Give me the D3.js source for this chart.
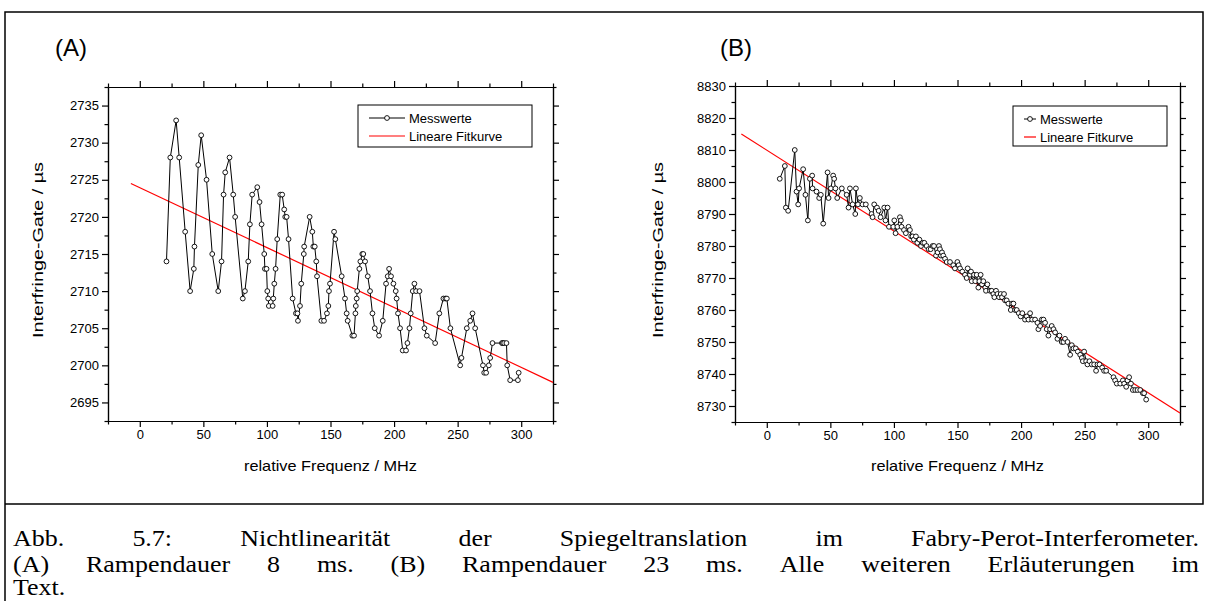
<!DOCTYPE html>
<html>
<head>
<meta charset="utf-8">
<style>
  body { margin: 0; padding: 0; background: #fff; }
  svg { display: block; }
  .tick text { font-family: "Liberation Sans", Arial, sans-serif; font-size: 13px; fill: #000; }
  .axis path, .axis line { stroke: #000; stroke-width: 1.2px; }
  .lbl { font-family: "Liberation Sans", Arial, sans-serif; fill: #000; }
  .cap { font-family: "Liberation Serif", "Times New Roman", serif; font-size: 23px; fill: #000; }
</style>
<script src="https://cdn.jsdelivr.net/npm/d3@7"></script>
</head>
<body>
<svg id="fig" width="1208" height="601"></svg>
<script>
// ---- data ----
var freqTicks = [0, 50, 100, 150, 200, 250, 300];
var gateTicksA = [2695, 2700, 2705, 2710, 2715, 2720, 2725, 2730, 2735];
var gateTicksB = [8730, 8740, 8750, 8760, 8770, 8780, 8790, 8800, 8810, 8820, 8830];
var legendLabels = ["Messwerte", "Lineare Fitkurve"];

// (A) Rampendauer 8 ms
var freqA = [21, 24, 28.6, 31, 35.7, 39.6, 42.5, 43, 46, 48.3, 52.5, 57, 61.7, 64.3, 65.9, 67.2, 70.6, 73.5, 75,
  81, 82.7, 85.3, 86.6, 88.4, 92.4, 94.2, 95.8, 97.9, 98.4, 99.7, 100.3, 101, 101.5, 104.5, 105, 105.8, 106.8,
  108.1, 110.5, 112, 113.6, 114.4, 115.5, 117, 120.2, 122.8, 124, 124.4, 126, 127, 129, 129.3, 133.6, 135.7,
  136.5, 137.6, 138.8, 139.4, 142.8, 144.9, 147.2, 148.3, 148.8, 149.6, 152.8, 153.8, 158.8, 161.4, 162.7,
  163.5, 167.2, 168.5, 169.6, 169.9, 170.6, 171, 172.7, 173.5, 175, 175.8, 177.2, 179.3, 181.1, 183, 184.8,
  188.2, 191.1, 193.7, 195, 196.1, 197.6, 199.5, 201.3, 202, 203.1, 204.7, 206.8, 209.4, 210.5, 212.1, 213.1,
  214.7, 216, 217.3, 220, 223.9, 225.7, 232.3, 235.6, 238.8, 240.4, 241.5, 244.3, 252, 253, 257.2, 259.9,
  261.7, 263.8, 269.9, 270.9, 272.4, 274.5, 275.6, 277.4, 284.8, 285.6, 286.6, 288.4, 289, 291.3, 297.4, 298];
var gateA = [2714, 2728, 2733, 2728, 2718, 2710, 2713, 2716, 2727, 2731, 2725, 2715, 2710, 2714, 2723, 2726, 2728, 2723, 2720,
  2709, 2710, 2714, 2719, 2723, 2724, 2722, 2719, 2715, 2713, 2713, 2710, 2709, 2708, 2708, 2709, 2711, 2713,
  2717, 2723, 2723, 2721, 2720, 2720, 2717, 2709, 2707, 2707, 2706, 2708, 2711, 2715, 2716, 2720, 2718,
  2716, 2716, 2714, 2712, 2706, 2706, 2707, 2708, 2710, 2711, 2718, 2717, 2712, 2709, 2707,
  2706, 2704, 2704, 2707, 2708, 2709, 2710, 2713, 2714, 2715, 2715, 2714, 2712, 2710, 2707, 2705,
  2704, 2706, 2711, 2712, 2713, 2712, 2711, 2710, 2709, 2707, 2705, 2702, 2702, 2703, 2705, 2707,
  2710, 2711, 2710, 2710, 2705, 2704, 2703, 2707, 2709, 2709, 2709, 2705, 2700, 2701, 2705, 2706,
  2707, 2705, 2700, 2699, 2699, 2700, 2701, 2703, 2703, 2703, 2703, 2703, 2700, 2698, 2698, 2699];
var fitFreqA = [-7, 325];
var fitGateA = [2724.5, 2697.7];

// (B) Rampendauer 23 ms
var freqB = [10.2, 14.2, 15, 16.8, 22, 23.4, 24.7, 25.4, 28.6, 30.4, 32.3, 33.9, 35.7, 36, 39.1, 41.2, 42.5, 44.4,
  47.8, 48.6, 50.4, 52.2, 53, 54, 55.4, 59, 62.8, 64.3, 65.4, 67.5, 69.6, 70.1, 71.7, 73.2, 75.3, 77.9, 82.4,
  83.2, 84.5, 86.7, 88, 89.5, 92.4, 93.4, 95, 96.1, 99.5, 100.3, 101.3, 102.7,
  104.7, 105.5, 106, 107.9, 109.4, 111.5, 112.6, 113.6, 114.7, 115.7, 117.3, 118.4, 120, 121.3, 122.6, 123.9,
  125.7, 127.3, 128.9, 130.4, 131.5, 133.1, 134.4, 135.4, 136.2, 137, 137.8, 138.8, 140.2, 141.5, 144.1, 146.7,
  148, 149.9, 150.9, 152, 153.8, 155.9, 157.2, 158, 159.8, 160.6, 161.2, 163, 164, 165.1, 166.4, 167.2, 168.2,
  169.3, 170.3, 171.9, 172.4, 173.5, 175.6, 176.9, 178.2, 179, 180.3, 181.4, 182.7, 184, 185, 186.6, 187.4,
  188.7, 190, 191.9, 192.9, 194, 195.3, 196.6, 198.2, 199.7, 201, 203.1, 204.5, 205.8, 207.1, 208.7, 211,
  212.9, 213.6, 215, 216.3, 217.6, 218.9, 220.2, 221.5, 222.8, 224.1, 225.5, 226.8, 228.6, 230.2, 232, 233.3,
  234.6, 236.5, 238.6, 239.9, 241.2, 243, 244.6, 246.5, 247.8, 248.6, 249.6, 251.2, 252.2, 253.8, 255.6, 257.5,
  259, 260.1, 261.7, 263.8, 265.3, 266.9, 272.7, 274, 275.3, 278, 280.1, 281.1, 282.7, 283.7, 285, 286.4,
  287.9, 289.8, 291.6, 293.7, 295.8, 296.8, 298.4];
var gateB = [8801, 8805, 8792, 8791, 8810, 8797, 8793, 8798, 8804, 8796, 8788, 8801, 8802, 8798, 8797, 8795, 8796, 8787,
  8803, 8795, 8798, 8802, 8801, 8798, 8795, 8798, 8796, 8792, 8798, 8793, 8790, 8798, 8793, 8795, 8793, 8793, 8790,
  8789, 8793, 8792, 8791, 8789, 8792, 8788, 8792, 8786, 8786, 8788, 8784, 8786,
  8789, 8788, 8786, 8785, 8784, 8786, 8785, 8783, 8783, 8782, 8783, 8781, 8782, 8780, 8781, 8781,
  8780, 8779, 8779, 8780, 8780, 8777, 8778, 8780, 8779, 8777, 8778, 8777, 8776, 8775, 8775, 8774,
  8773, 8775, 8774, 8773, 8772, 8771, 8770, 8773, 8771, 8772, 8769, 8771, 8769, 8771, 8767, 8769, 8771,
  8768, 8769, 8767, 8766, 8768, 8766, 8766, 8765, 8764, 8766, 8765, 8764, 8765, 8764, 8765, 8763,
  8763, 8762, 8760, 8762, 8762, 8760, 8760, 8759, 8758, 8759, 8757, 8758, 8757, 8759, 8757, 8757,
  8756, 8754, 8755, 8757, 8757, 8756, 8754, 8752, 8754, 8755, 8754, 8753, 8751, 8752, 8750, 8750,
  8751, 8750, 8746, 8749, 8748, 8748, 8747, 8746, 8745, 8744, 8747, 8744, 8743, 8744, 8743, 8743,
  8741, 8743, 8743, 8742, 8741, 8741, 8739, 8738, 8737, 8737, 8738, 8737, 8736, 8738, 8739, 8737,
  8735, 8735, 8735, 8735, 8734, 8734, 8732];
var fitFreqB = [-20, 325];
var fitGateB = [8815.0, 8727.8];

var captionLines = [
  "Abb. 5.7: Nichtlinearität der Spiegeltranslation im Fabry-Perot-Interferometer.",
  "(A) Rampendauer 8 ms. (B) Rampendauer 23 ms. Alle weiteren Erläuterungen im",
  "Text."
];

var svg = d3.select("#fig");

// outer frame
svg.append("path")
  .attr("d", "M5,601 V12 H1203 V504 H5")
  .attr("fill", "none").attr("stroke", "#000").attr("stroke-width", 1.5);

function panel(opt) {
  var x = d3.scaleLinear().domain([-25, 325]).range([opt.left, opt.right]);
  var y = d3.scaleLinear().domain(opt.yDomain).range([opt.bottom, opt.top]);
  var g = svg.append("g");
  var minorX = d3.range(-25, 326, 25).filter(function(v){ return freqTicks.indexOf(v) < 0; });
  var minorY = d3.range(opt.yDomain[0], opt.yDomain[1] + 0.01, opt.minorStep)
    .filter(function(v){ return opt.yTicks.indexOf(Math.round(v * 10) / 10) < 0; });

  function axes(gen, pos, vals, labels, size) {
    var ax = gen.tickValues(vals).tickSize(size).tickSizeOuter(0);
    ax.tickFormat(labels ? d3.format("d") : "");
    g.append("g").attr("class", "axis").attr("transform", pos).call(ax);
  }
  // bottom / top
  axes(d3.axisBottom(x), "translate(0," + opt.bottom + ")", freqTicks, true, 6);
  axes(d3.axisBottom(x), "translate(0," + opt.bottom + ")", minorX, false, 3.5);
  axes(d3.axisTop(x), "translate(0," + opt.top + ")", freqTicks, false, 6);
  axes(d3.axisTop(x), "translate(0," + opt.top + ")", minorX, false, 3.5);
  // left / right
  axes(d3.axisLeft(y), "translate(" + opt.left + ",0)", opt.yTicks, true, 6);
  axes(d3.axisLeft(y), "translate(" + opt.left + ",0)", minorY, false, 3.5);
  axes(d3.axisRight(y), "translate(" + opt.right + ",0)", opt.yTicks, false, 6);
  axes(d3.axisRight(y), "translate(" + opt.right + ",0)", minorY, false, 3.5);
  g.selectAll(".domain").attr("stroke-width", 1.4);

  // fit line
  var fit = opt.fitX.map(function(v, i){ return [v, opt.fitY[i]]; });
  g.append("path")
    .attr("d", d3.line().x(function(d){ return x(d[0]); }).y(function(d){ return y(d[1]); })(fit))
    .attr("fill", "none").attr("stroke", "#ff0000").attr("stroke-width", 1.2);

  // measured values
  var pts = opt.xs.map(function(v, i){ return [v, opt.ys[i]]; });
  g.append("path")
    .attr("d", d3.line().x(function(d){ return x(d[0]); }).y(function(d){ return y(d[1]); })(pts))
    .attr("fill", "none").attr("stroke", "#000").attr("stroke-width", 1);
  g.selectAll("circle.pt").data(pts).enter().append("circle")
    .attr("class", "pt")
    .attr("cx", function(d){ return x(d[0]); })
    .attr("cy", function(d){ return y(d[1]); })
    .attr("r", 2.4).attr("fill", "#fff").attr("stroke", "#000").attr("stroke-width", 0.9);

  // legend
  var L = opt.legend;
  g.append("rect").attr("x", L.x).attr("y", L.y).attr("width", L.w).attr("height", L.h)
    .attr("fill", "#fff").attr("stroke", "#000").attr("stroke-width", 1);
  var ly1 = L.y + 13, ly2 = L.y + 31;
  g.append("line").attr("x1", L.x + 11).attr("x2", L.x + L.s).attr("y1", ly1).attr("y2", ly1).attr("stroke", "#000");
  g.append("circle").attr("cx", L.x + 11 + (L.s - 11) / 2).attr("cy", ly1).attr("r", 2.4)
    .attr("fill", "#fff").attr("stroke", "#000").attr("stroke-width", 0.9);
  g.append("line").attr("x1", L.x + 11).attr("x2", L.x + L.s).attr("y1", ly2).attr("y2", ly2)
    .attr("stroke", "#ff0000").attr("stroke-width", 1.2);
  g.append("text").attr("class", "lbl").attr("x", L.x + L.s + 4).attr("y", ly1 + 5)
    .style("font-size", "13px").text(legendLabels[0]);
  g.append("text").attr("class", "lbl").attr("x", L.x + L.s + 4).attr("y", ly2 + 5)
    .style("font-size", "13px").text(legendLabels[1]);

  // titles
  g.append("text").attr("class", "lbl").attr("x", opt.tagX).attr("y", 56)
    .style("font-size", "24px").text(opt.tag);
  g.append("text").attr("class", "lbl").attr("text-anchor", "middle")
    .attr("x", (opt.left + opt.right) / 2).attr("y", 471)
    .style("font-size", "15px").attr("textLength", 173).attr("lengthAdjust", "spacingAndGlyphs")
    .text("relative Frequenz   / MHz");
  g.append("text").attr("class", "lbl").attr("text-anchor", "middle")
    .attr("transform", "translate(" + opt.ylabX + "," + ((opt.top + opt.bottom) / 2 - 4) + ") rotate(-90)")
    .style("font-size", "15px").attr("textLength", 176).attr("lengthAdjust", "spacingAndGlyphs")
    .text("Interfringe-Gate   / µs");
}

panel({
  left: 108, right: 553, top: 87, bottom: 421,
  yDomain: [2692.5, 2737.5], yTicks: gateTicksA, minorStep: 2.5,
  xs: freqA, ys: gateA, fitX: fitFreqA, fitY: fitGateA,
  legend: {x: 358, y: 105, w: 174, h: 42, s: 47},
  tag: "(A)", tagX: 55, ylabX: 43
});
panel({
  left: 735, right: 1180, top: 86, bottom: 422,
  yDomain: [8725, 8830], yTicks: gateTicksB, minorStep: 5,
  xs: freqB, ys: gateB, fitX: fitFreqB, fitY: fitGateB,
  legend: {x: 1013, y: 106, w: 154, h: 40, s: 23},
  tag: "(B)", tagX: 720, ylabX: 663
});

// caption, justified like the TeX original (words widened a little, CM is broader than Times)
var capY = [546, 572, 595];
var stretch = 1.13;
captionLines.forEach(function(line, li) {
  var words = line.split(" ");
  var gT = svg.append("g");
  var nodes = words.map(function(w){ return gT.append("text").attr("class", "cap").text(w); });
  var widths = nodes.map(function(n){ return n.node().getComputedTextLength() * stretch; });
  var total = d3.sum(widths);
  var x0 = 13, x1 = 1199;
  var gap = (li < 2 && words.length > 1) ? (x1 - x0 - total) / (words.length - 1) : 7;
  var cx = x0;
  nodes.forEach(function(n, i){
    n.attr("transform", "translate(" + cx + "," + capY[li] + ") scale(" + stretch + ",1)");
    cx += widths[i] + gap;
  });
});
</script>
</body>
</html>
